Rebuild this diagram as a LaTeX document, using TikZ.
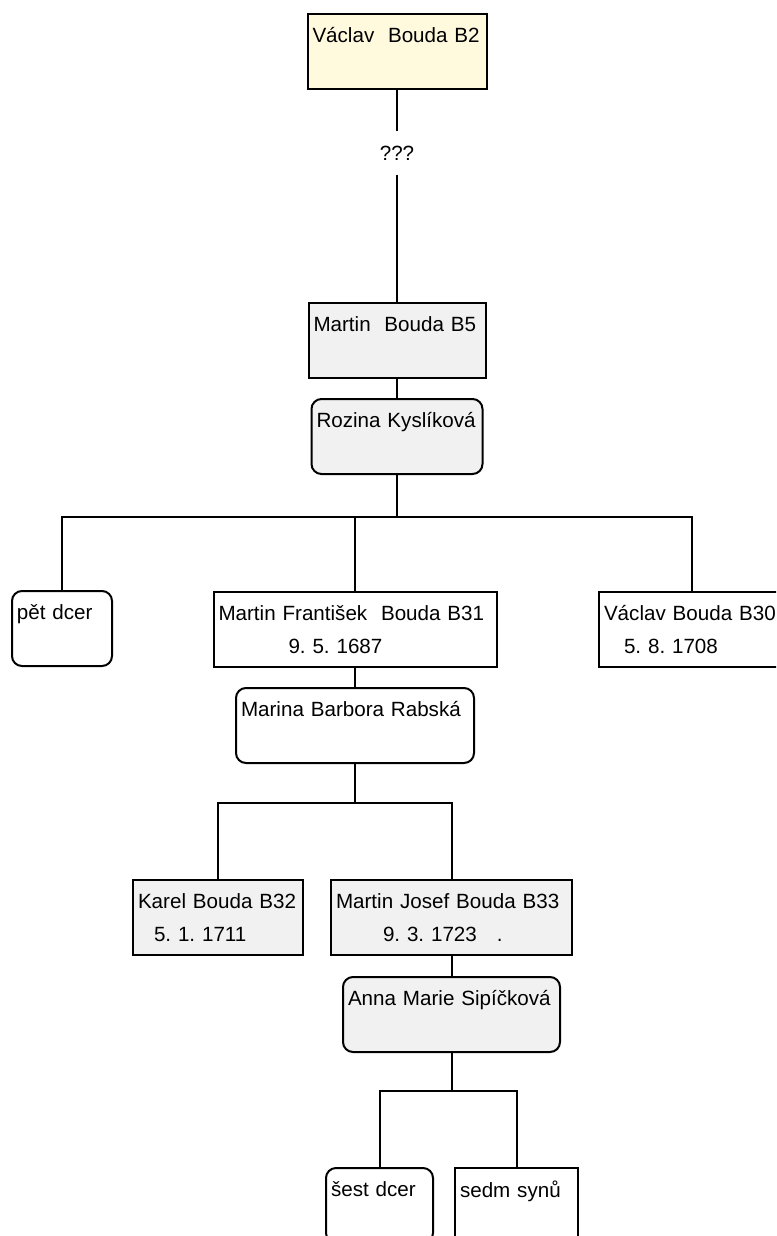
\documentclass[tikz,border=0pt]{standalone}
\usepackage{fontspec}
\setmainfont{Liberation Sans}
\usepackage{tikz}
\usetikzlibrary{positioning}
\definecolor{ivory}{RGB}{255,250,222}
\definecolor{boxgray}{RGB}{241,241,241}

\begin{document}
\frenchspacing
\begin{tikzpicture}[
  x=0.5pt, y=-0.5pt,
  font=\fontsize{10.3}{16.5}\selectfont,
  person/.style={draw, line width=1pt, anchor=north, align=left, inner xsep=2.5pt, inner ysep=0pt, minimum height=37.5pt, text width=#1},
  spouse/.style={person=#1, rounded corners=5pt},
  link/.style={line width=1pt},
]
  \useasboundingbox (0,0) rectangle (776,1236);
  \clip (0,0) rectangle (776,1236);

  % Ancestors
  \node[person=84.5pt, fill=ivory] (b2) at (397,13) {Václav\ \ Bouda B2\\ \mbox{}};
  \node[inner ysep=7pt] (qq) at (397,153) {???};
  \node[person=83.5pt, fill=boxgray] (b5) at (397,302) {Martin\ \ Bouda B5\\ \mbox{}};
  \node[spouse=80.5pt, fill=boxgray] (rozina) at (397,398) {Rozina Kyslíková\\ \mbox{}};

  % Children of B5
  \node[spouse=45pt, fill=white] (petdcer) at (62,590) {pět dcer\\ \mbox{}};
  \node[person=136.5pt, fill=white] (b31) at (355,591) {Martin František\ \ Bouda B31\\\hspace*{35pt}9. 5. 1687};
  \node[person=88pt, fill=white] (b30) at (692,591) {Václav Bouda B30\\\hspace*{10pt}5. 8. 1708};
  \node[spouse=114pt, fill=white] (marina) at (355,687) {Marina Barbora Rabská\\ \mbox{}};

  % Children of B31
  \node[person=80pt, fill=boxgray] (b32) at (218,879) {Karel Bouda B32\\\hspace*{8pt}5. 1. 1711};
  \node[person=115.5pt, fill=boxgray] (b33) at (451.5,879) {Martin Josef Bouda B33\\\hspace*{23.5pt}9. 3. 1723\hspace{10pt}.};
  \node[spouse=103.5pt, fill=boxgray] (anna) at (451.5,976) {Anna Marie Sipíčková\\ \mbox{}};

  % Children of B33
  \node[spouse=48.5pt, fill=white] (sestdcer) at (379.5,1167) {šest dcer\\ \mbox{}};
  \node[person=56.5pt, fill=white] (sedm) at (516.5,1167) {sedm synů\\ \mbox{}};

  % Junctions
  \coordinate (j1) at (397,517);
  \coordinate (j2) at (355,803);
  \coordinate (j3) at (451.5,1091);

  % Lines
  \draw[link] (b2) -- (qq);
  \draw[link] (qq) -- (b5);
  \draw[link] (b5) -- (rozina);
  \draw[link] (rozina) -- (j1);
  \draw[link] (petdcer.north) |- (j1) -| (b30.north);
  \draw[link] (j1) -| (b31.north);
  \draw[link] (b31) -- (marina);
  \draw[link] (marina) -- (j2);
  \draw[link] (b32.north) |- (j2) -| (b33.north);
  \draw[link] (b33) -- (anna);
  \draw[link] (anna) -- (j3);
  \draw[link] (sestdcer.north) |- (j3) -| (sedm.north);
\end{tikzpicture}
\end{document}
